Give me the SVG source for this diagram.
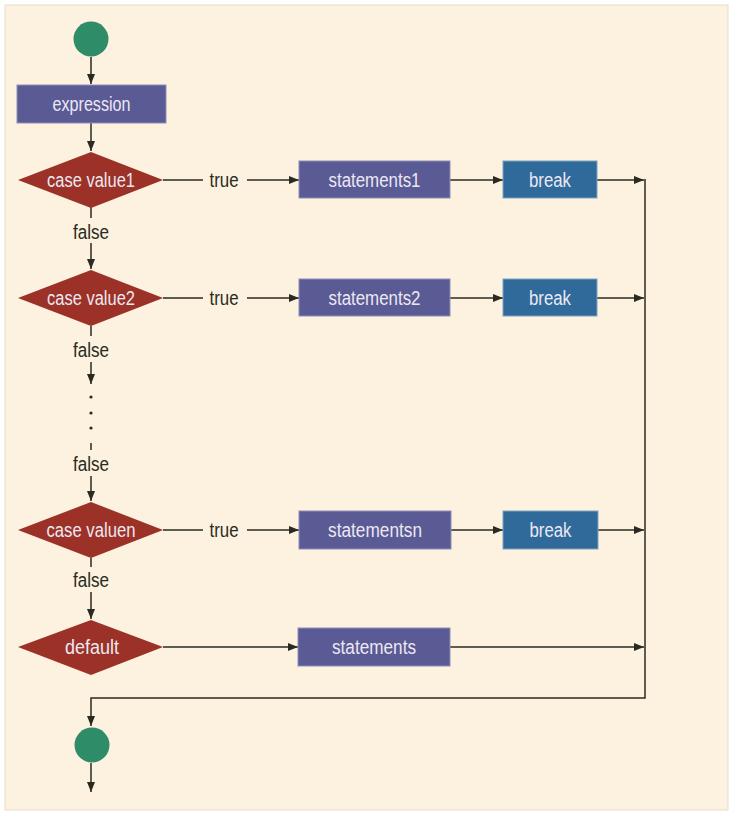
<svg xmlns="http://www.w3.org/2000/svg" width="731" height="813" viewBox="0 0 731 813">
  <defs>
    <marker id="arrow" viewBox="0 0 10 8" refX="10" refY="4" markerWidth="10" markerHeight="8" markerUnits="userSpaceOnUse" orient="auto">
      <path d="M0,0 L10,4 L0,8 Z" fill="#2b2a22"/>
    </marker>
    <style>
      .bg { fill: #fcf2df; stroke: #e6dccb; stroke-width: 1; }
      .edge { fill: none; stroke: #2b2a22; stroke-width: 1.5; }
      .arr { marker-end: url(#arrow); }
      .dot { fill: #2b2a22; }
      .term { fill: #2e8c68; }
      .proc { fill: #5a5a95; stroke: #8e8eb8; stroke-width: 1; }
      .brk { fill: #2f6a9a; stroke: #7ea2c2; stroke-width: 1; }
      .dec { fill: #9b3127; }
      .t { font-family: "Liberation Sans", Arial, sans-serif; font-size: 20px; text-anchor: middle; }
      .in { fill: #ece8f2; }
      .lbl { fill: #2b2a22; }
    </style>
  </defs>

  <rect x="0" y="0" width="731" height="813" fill="#ffffff"/>
  <rect class="bg" x="5" y="5" width="723" height="805"/>

  <!-- connectors -->
  <g id="connectors">
    <line class="edge arr" x1="91" y1="57" x2="91" y2="84"/>
    <line class="edge arr" x1="91" y1="123" x2="91" y2="151"/>

    <!-- row 1 -->
    <line class="edge" x1="163" y1="180" x2="203" y2="180"/>
    <line class="edge arr" x1="247" y1="180" x2="299" y2="180"/>
    <line class="edge arr" x1="450" y1="180" x2="503" y2="180"/>
    <line class="edge arr" x1="597" y1="180" x2="644" y2="180"/>

    <!-- false 1 -->
    <line class="edge" x1="91" y1="207" x2="91" y2="218"/>
    <line class="edge arr" x1="91" y1="243" x2="91" y2="269"/>

    <!-- row 2 -->
    <line class="edge" x1="163" y1="298" x2="203" y2="298"/>
    <line class="edge arr" x1="247" y1="298" x2="299" y2="298"/>
    <line class="edge arr" x1="450" y1="298" x2="503" y2="298"/>
    <line class="edge arr" x1="597" y1="298" x2="644" y2="298"/>

    <!-- false 2 and ellipsis -->
    <line class="edge" x1="91" y1="326" x2="91" y2="336"/>
    <line class="edge arr" x1="91" y1="362" x2="91" y2="384"/>
    <circle class="dot" cx="91" cy="397" r="1.6"/>
    <circle class="dot" cx="91" cy="413" r="1.6"/>
    <circle class="dot" cx="91" cy="428" r="1.6"/>
    <line class="edge" x1="91" y1="443" x2="91" y2="450"/>
    <line class="edge arr" x1="91" y1="476" x2="91" y2="501"/>

    <!-- row n -->
    <line class="edge" x1="163" y1="530" x2="203" y2="530"/>
    <line class="edge arr" x1="247" y1="530" x2="299" y2="530"/>
    <line class="edge arr" x1="451" y1="530" x2="503" y2="530"/>
    <line class="edge arr" x1="598" y1="530" x2="644" y2="530"/>

    <!-- false n -->
    <line class="edge" x1="91" y1="558" x2="91" y2="567"/>
    <line class="edge arr" x1="91" y1="592" x2="91" y2="619"/>

    <!-- default row -->
    <line class="edge arr" x1="163" y1="647" x2="298" y2="647"/>
    <line class="edge arr" x1="450" y1="647" x2="644" y2="647"/>

    <!-- merge to end -->
    <polyline class="edge arr" points="645,179 645,698 91,698 91,726"/>
    <line class="edge arr" x1="91" y1="763" x2="91" y2="792"/>

    <text class="t lbl" x="224" y="187" textLength="29" lengthAdjust="spacingAndGlyphs">true</text>
    <text class="t lbl" x="224" y="305" textLength="29" lengthAdjust="spacingAndGlyphs">true</text>
    <text class="t lbl" x="224" y="537" textLength="29" lengthAdjust="spacingAndGlyphs">true</text>
    <text class="t lbl" x="91" y="239" textLength="36" lengthAdjust="spacingAndGlyphs">false</text>
    <text class="t lbl" x="91" y="357" textLength="36" lengthAdjust="spacingAndGlyphs">false</text>
    <text class="t lbl" x="91" y="471" textLength="36" lengthAdjust="spacingAndGlyphs">false</text>
    <text class="t lbl" x="91" y="587" textLength="36" lengthAdjust="spacingAndGlyphs">false</text>
  </g>

  <!-- nodes -->
  <g id="start"><circle class="term" cx="91" cy="39" r="17.5"/></g>

  <g id="expression">
    <rect class="proc" x="17" y="85" width="149" height="38"/>
    <text class="t in" x="91.5" y="111" textLength="78" lengthAdjust="spacingAndGlyphs">expression</text>
  </g>

  <g id="case1">
    <polygon class="dec" points="91,152 163,180 91,208 18,180"/>
    <text class="t in" x="91" y="187" textLength="88" lengthAdjust="spacingAndGlyphs">case value1</text>
  </g>
  <g id="statements1">
    <rect class="proc" x="299" y="161" width="151" height="37"/>
    <text class="t in" x="374.5" y="187" textLength="92" lengthAdjust="spacingAndGlyphs">statements1</text>
  </g>
  <g id="break1">
    <rect class="brk" x="503" y="161" width="94" height="37"/>
    <text class="t in" x="550" y="187" textLength="42" lengthAdjust="spacingAndGlyphs">break</text>
  </g>

  <g id="case2">
    <polygon class="dec" points="91,270 163,298 91,326 18,298"/>
    <text class="t in" x="91" y="305" textLength="88" lengthAdjust="spacingAndGlyphs">case value2</text>
  </g>
  <g id="statements2">
    <rect class="proc" x="299" y="279" width="151" height="37"/>
    <text class="t in" x="374.5" y="305" textLength="92" lengthAdjust="spacingAndGlyphs">statements2</text>
  </g>
  <g id="break2">
    <rect class="brk" x="503" y="279" width="94" height="37"/>
    <text class="t in" x="550" y="305" textLength="42" lengthAdjust="spacingAndGlyphs">break</text>
  </g>

  <g id="casen">
    <polygon class="dec" points="91,502 163,530 91,558 18,530"/>
    <text class="t in" x="91" y="537" textLength="89" lengthAdjust="spacingAndGlyphs">case valuen</text>
  </g>
  <g id="statementsn">
    <rect class="proc" x="299" y="511" width="152" height="38"/>
    <text class="t in" x="375" y="537" textLength="94" lengthAdjust="spacingAndGlyphs">statementsn</text>
  </g>
  <g id="breakn">
    <rect class="brk" x="503" y="511" width="95" height="38"/>
    <text class="t in" x="550.5" y="537" textLength="42" lengthAdjust="spacingAndGlyphs">break</text>
  </g>

  <g id="default">
    <polygon class="dec" points="91,620 163,647 91,675 18,647"/>
    <text class="t in" x="92" y="654" textLength="54" lengthAdjust="spacingAndGlyphs">default</text>
  </g>
  <g id="statements">
    <rect class="proc" x="298" y="628" width="152" height="38"/>
    <text class="t in" x="374" y="654" textLength="84" lengthAdjust="spacingAndGlyphs">statements</text>
  </g>

  <g id="end"><circle class="term" cx="92" cy="745" r="17.5"/></g>
</svg>
